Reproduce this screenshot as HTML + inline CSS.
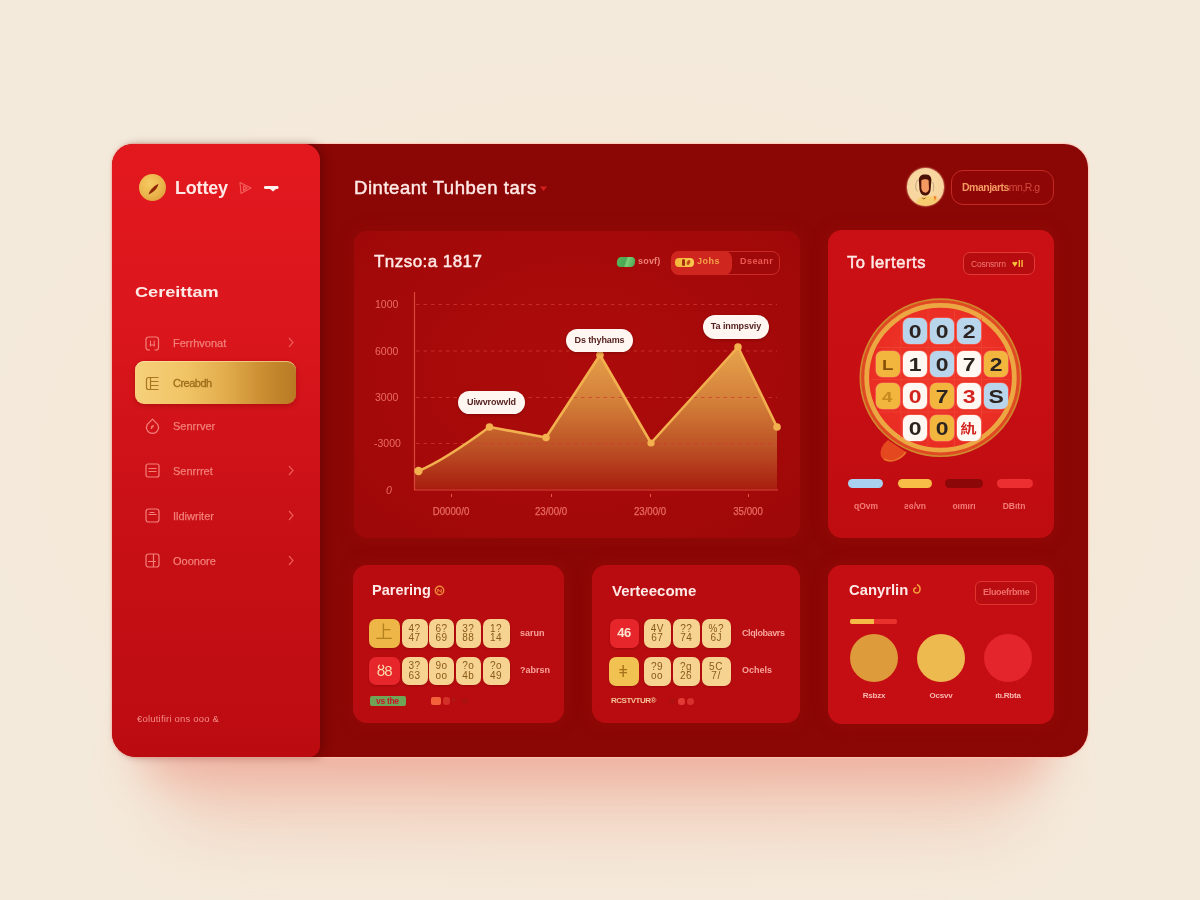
<!DOCTYPE html>
<html lang="en">
<head>
<meta charset="utf-8">
<title>Lottey Dashboard</title>
<style>
*{box-sizing:border-box;margin:0;padding:0}
html,body{width:1200px;height:900px;overflow:hidden}
body{position:relative;background:#f4eadb;font-family:"Liberation Sans",sans-serif;color:#ffe4e0}
.abs{position:absolute}
.bgglow{left:0;top:0;width:1200px;height:900px;background:radial-gradient(ellipse 640px 430px at 600px 470px,#f7e3d3 0%,rgba(244,234,219,0) 100%)}
.shadow{left:138px;top:700px;width:915px;height:80px;border-radius:40px;background:#ec9a88;filter:blur(22px);opacity:.62}
.panel{left:112px;top:144px;width:976px;height:613px;border-radius:21px 24px 27px 24px;background:#8a0705;box-shadow:0 0 1.5px 1px rgba(255,196,180,.95)}
.side{left:112px;top:144px;width:208px;height:613px;border-radius:21px 16px 11px 24px;background:linear-gradient(180deg,#e3181f 0%,#da161c 30%,#c81016 62%,#bb0b11 100%);box-shadow:4px 0 9px rgba(70,0,0,.35)}
.card{border-radius:14px;box-shadow:0 0 18px 2px rgba(176,20,16,.2)}
.t{position:absolute;white-space:nowrap;line-height:1}
.h{font-weight:bold;color:#ffe9e6}
.mi{color:#f37f78;font-size:11px;-webkit-text-stroke:.25px #f37f78}
.ax{font-size:10.5px;color:#ea6c63}
.xl{width:50px;text-align:center;transform:scaleX(.84);font-size:11.500px;-webkit-text-stroke:.25px #ea6c63}
.tip{position:absolute;border-radius:12px;background:#fff6f2;color:#552220;font-size:9px;font-weight:bold;line-height:23px;text-align:center;white-space:nowrap;box-shadow:0 1px 3px rgba(80,0,0,.4);letter-spacing:-.1px}
.tile{position:absolute;width:24px;height:26.400px;border-radius:6.5px;font-weight:bold;font-size:18.5px;line-height:27px;text-align:center;box-shadow:0 0 0 .6px rgba(255,170,150,.55)}
.tile i{display:inline-block;font-style:normal;transform:scaleX(1.24)}
.lg{width:50px;text-align:center;font-size:8.500px;font-weight:bold;color:#f37c77}
.nt{position:absolute;border-radius:7px;font-size:10px;line-height:9.5px;font-weight:normal;display:flex;flex-direction:column;align-items:center;justify-content:center;letter-spacing:.5px;box-shadow:0 1px 2px rgba(110,0,0,.35)}
.nt span{display:block}
.sl{font-size:9px;font-weight:bold;color:#f7a39b}
.cl{width:50px;text-align:center;font-size:8px;letter-spacing:-.2px;color:#f9b8b0;font-weight:bold}
svg{position:absolute;overflow:visible}
</style>
</head>
<body>
<div class="abs bgglow"></div>
<div class="abs" style="left:160px;top:730px;width:870px;height:100px;border-radius:50px;background:#efb09c;filter:blur(36px);opacity:.45"></div>
<div class="abs shadow"></div>
<div class="abs panel"></div>
<div class="abs side"></div>

<!-- SIDEBAR -->
<div id="sidebar">
  <div class="abs" style="left:139px;top:174px;width:27px;height:27px;border-radius:50%;background:radial-gradient(circle at 40% 35%,#f6cc62 0%,#eab24a 55%,#d8912f 100%)"></div>
  <svg style="left:139px;top:174px" width="27" height="27" viewBox="0 0 27 27"><path d="M9.6 20.4 C10.6 16.4 14.8 12 19.4 9.8 C19 14 14.6 18.6 9.6 20.4Z" fill="#8e2606"/></svg>
  <div class="t h" id="logo" style="left:175px;top:179px;font-size:18px;letter-spacing:-.2px">Lottey</div>
  <svg style="left:238px;top:181px" width="15" height="14" viewBox="0 0 15 14" fill="none" stroke="#f4605c" stroke-width="1.1" stroke-linejoin="round"><path d="M2 1.5 L13 7 L3 12.5 Z"/><path d="M5.5 5 L9 7 L5.5 9.5 Z"/></svg>
  <svg style="left:264px;top:185px" width="15" height="8" viewBox="0 0 15 8"><rect x="0" y="1" width="14.5" height="3" rx="1.2" fill="#fff1ee"/><path d="M6 4 h6 l-3 2.6 z" fill="#fff1ee"/></svg>

  <div class="t h" id="sect" style="left:135px;top:284px;font-size:15.500px;font-weight:bold;letter-spacing:0;transform:scaleX(1.17);transform-origin:0 0">Cereittam</div>

  <div class="abs" style="left:135px;top:361px;width:161px;height:43px;border-radius:9px;background:linear-gradient(90deg,#f6d07c 0%,#f1c566 30%,#e3ae4e 55%,#c88a2e 82%,#b87a24 100%);box-shadow:0 2px 5px rgba(120,0,0,.35), inset 0 1px 0 rgba(255,235,170,.6)"></div>

  <!-- menu icons -->
  <svg style="left:145px;top:336px" width="15" height="15" viewBox="0 0 15 15" fill="none" stroke="#f4807a" stroke-width="1.2"><path d="M5 14H3.500a2.500 2.500 0 0 1-2.500-2.500v-8A2.500 2.500 0 0 1 3.500 1h7.500a2.500 2.500 0 0 1 2.500 2.500v8a2.500 2.500 0 0 1-2.500 2.500H9.500"/><path d="M4.500 9h5.500M5.500 4.500v6M9.200 4.500v6" stroke-width="1"/></svg>
  <svg style="left:145px;top:376px" width="15" height="15" viewBox="0 0 15 15" fill="none" stroke="#a9761f" stroke-width="1.2"><path d="M13.5 1.5H3.5a2 2 0 0 0-2 2v8a2 2 0 0 0 2 2h10"/><path d="M5.5 1.5v12M5.5 5.5h8M5.5 9.5h8"/></svg>
  <svg style="left:145px;top:418px" width="15" height="16" viewBox="0 0 15 16" fill="none" stroke="#f4807a" stroke-width="1.2" stroke-linejoin="round"><path d="M7.5 1.2 L12.8 6.6 A6 6 0 1 1 2.2 6.6 Z"/><path d="M6 11 L8.5 7 M6 8.6 L8.6 8.6"/></svg>
  <svg style="left:145px;top:463px" width="15" height="15" viewBox="0 0 15 15" fill="none" stroke="#f4807a" stroke-width="1.2"><rect x="1" y="1" width="13" height="13" rx="2"/><path d="M3.5 5.5h8M3.5 8.5h8"/></svg>
  <svg style="left:145px;top:508px" width="15" height="15" viewBox="0 0 15 15" fill="none" stroke="#f4807a" stroke-width="1.2"><rect x="1" y="1" width="13" height="13" rx="2.5"/><path d="M3.5 6.5h8M4.5 4.5h5"/></svg>
  <svg style="left:145px;top:553px" width="15" height="15" viewBox="0 0 15 15" fill="none" stroke="#f4807a" stroke-width="1.2"><rect x="1" y="1" width="13" height="13" rx="2.5"/><path d="M8.5 1v13M3 8.5h8"/></svg>

  <div class="t mi" style="left:173px;top:338px">Ferrhvonat</div>
  <div class="t mi" style="left:173px;top:378px;color:#9c6c1a;-webkit-text-stroke:.3px #9c6c1a;letter-spacing:-.5px">Creabdh</div>
  <div class="t mi" style="left:173px;top:421px">Senrrver</div>
  <div class="t mi" style="left:173px;top:466px">Senrrret</div>
  <div class="t mi" style="left:173px;top:511px">Ildiwriter</div>
  <div class="t mi" style="left:173px;top:556px">Ooonore</div>

  <svg style="left:287px;top:337px" width="8" height="11" viewBox="0 0 8 11" fill="none" stroke="#ef5a56" stroke-width="1.2"><path d="M2 1l4 4.5L2 10"/></svg>
  <svg style="left:287px;top:465px" width="8" height="11" viewBox="0 0 8 11" fill="none" stroke="#ef5a56" stroke-width="1.2"><path d="M2 1l4 4.5L2 10"/></svg>
  <svg style="left:287px;top:510px" width="8" height="11" viewBox="0 0 8 11" fill="none" stroke="#ef5a56" stroke-width="1.2"><path d="M2 1l4 4.5L2 10"/></svg>
  <svg style="left:287px;top:555px" width="8" height="11" viewBox="0 0 8 11" fill="none" stroke="#ef5a56" stroke-width="1.2"><path d="M2 1l4 4.5L2 10"/></svg>

  <div class="t" style="left:137px;top:714px;font-size:9.5px;color:#f58c86;letter-spacing:.2px">€olutifiri ons ooo &amp;</div>
</div>

<!-- HEADER -->
<div id="header">
  <div class="t h" id="title" style="left:354px;top:179px;font-size:18.5px;font-weight:normal;-webkit-text-stroke:.45px #ffe9e6;letter-spacing:.55px">Dinteant Tuhben tars</div>
  <svg style="left:540px;top:186px" width="8" height="6" viewBox="0 0 8 6"><path d="M0 .5h7L3.5 5z" fill="#d3201f"/></svg>
  <div class="abs" style="left:907.300px;top:168px;width:36.700px;height:37.500px;border-radius:50%;background:radial-gradient(circle at 45% 40%,#f9dca6 0%,#f8d49e 60%,#f7c39a 100%);overflow:hidden;box-shadow:0 0 1.5px .5px rgba(255,190,150,.7)">
    <svg style="left:0;top:0" width="37" height="37.500" viewBox="0 0 37 37.500"><ellipse cx="21" cy="35.500" rx="12" ry="7.500" fill="#f6c750" opacity=".6"/><path d="M26.500 27.500l3.200 1.200-1.800 4.300z" fill="#f0812f"/><path d="M10.800 11.500C8.200 15.500 8 20.500 10.300 23.500M25.800 14C27 17.500 27 21 26 23.500" fill="none" stroke="#b59378" stroke-width=".9" opacity=".8"/><path d="M12 14.500C10.800 8.500 15 6 18.200 6.600C22.200 5.800 25.400 9 24.200 14.500L23.600 22C23.200 26 20 28 17.600 27.500C14.200 27 12.600 24 12.400 20.500Z" fill="#4a1206"/><path d="M14.300 12.600C16 11 20 11 21.600 12.200L22 21C21.600 23.500 19.200 25 17.700 24.600C15.600 24 14.400 22 14.300 20Z" fill="#f59a62"/><path d="M15 29.500l1.500 1.500 2-1" stroke="#8a4a10" stroke-width=".9" fill="none"/></svg>
  </div>
  <div class="abs" style="left:950.5px;top:170px;width:103px;height:35px;border-radius:12px;border:1px solid #c42a24;background:#8e0606"></div>
  <div class="t" id="userbtn" style="left:962px;top:182px;font-size:10.5px;font-weight:bold;color:#f59a62;letter-spacing:-.5px">Dmanjarts<span style="color:#d4483c;font-weight:normal">mn,R.g</span></div>
</div>

<!-- CARDS -->
<div class="abs card" style="left:354px;top:231px;width:446px;height:307px;border-radius:13px;background:radial-gradient(ellipse 330px 230px at 50% 45%,#ad0b0b 0%,#a50909 60%,#9d0808 100%)"></div>
<div class="abs card" style="left:828px;top:230px;width:226px;height:308px;background:linear-gradient(180deg,#cb1015 0%,#c60e13 55%,#be0c11 100%)"></div>
<div class="abs card" style="left:353px;top:565px;width:211px;height:158px;background:#b80c10"></div>
<div class="abs card" style="left:592px;top:565px;width:208px;height:158px;background:#b80c10"></div>
<div class="abs card" style="left:828px;top:565px;width:226px;height:159px;background:#c50e13"></div>

<!--CHART-->
<div id="chart">
  <div class="t h" id="ctitle" style="left:374px;top:253px;font-size:17px;font-weight:normal;-webkit-text-stroke:.45px #ffe9e6;letter-spacing:.45px">Tnzso:a 1817</div>
  <div class="abs" style="left:617px;top:257px;width:18px;height:10px;border-radius:4px;background:linear-gradient(100deg,#58b85c 0%,#4aa653 45%,#7ccf78 55%,#4aa653 100%);transform:skewX(-8deg)"></div>
  <div class="t" style="left:638px;top:257px;font-size:9px;font-weight:bold;color:#ee8178;letter-spacing:.2px">sovf)</div>
  <div class="abs" style="left:671px;top:251px;width:109px;height:24px;border-radius:8px;border:1px solid #c92a26;background:#a00909"></div>
  <div class="abs" style="left:671px;top:251px;width:61px;height:24px;border-radius:8px;background:#cf2620"></div>
  <div class="abs" style="left:675px;top:258px;width:19px;height:9px;border-radius:4px;background:linear-gradient(90deg,#f6b53a,#f7c94e)"></div>
  <div class="abs" style="left:682px;top:259px;width:3px;height:7px;border-radius:2px;background:#a3300f"></div>
  <div class="abs" style="left:687px;top:260px;width:3px;height:5px;border-radius:2px;background:#c34a14;transform:rotate(25deg)"></div>
  <div class="t" style="left:697px;top:257px;font-size:9px;font-weight:bold;color:#f6a24a;letter-spacing:.5px">Johs</div>
  <div class="t" style="left:740px;top:257px;font-size:9px;font-weight:bold;color:#ec5a52;letter-spacing:.45px">Dseanr</div>
  <svg style="left:354px;top:231px" width="446" height="307" viewBox="354 231 446 307">
    <defs>
      <linearGradient id="ag" x1="0" y1="347" x2="0" y2="490" gradientUnits="userSpaceOnUse">
        <stop offset="0" stop-color="#e7a44c"/><stop offset=".4" stop-color="#d27d38"/><stop offset=".75" stop-color="#b94a22"/><stop offset="1" stop-color="#a81c0e"/>
      </linearGradient>
    </defs>
    
    <path d="M418.5 471 C440 462 465 445 489.5 427 L546 437.5 L600 355 L651 443 L738 347 L777 427 L777 489.5 L414.5 489.5 L414.5 473 Z" fill="url(#ag)"/>
    <g stroke="#d23a30" stroke-width="1" stroke-dasharray="3.5 4" opacity=".75">
      <path d="M416 304.5H777M416 351H777M416 397.5H777M416 443.5H777"/>
    </g>
    <path d="M414.5 292V490H778" fill="none" stroke="#d8473a" stroke-width="1.2"/>
    <path d="M418.5 471 C440 462 465 445 489.5 427 L546 437.5 L600 355 L651 443 L738 347 L777 427" fill="none" stroke="#f2b04e" stroke-width="2.6" stroke-linejoin="round" stroke-linecap="round"/>
    <g fill="#f2b04e"><circle cx="418.5" cy="471" r="4.2"/><circle cx="489.5" cy="427" r="3.8"/><circle cx="546" cy="437.5" r="3.8"/><circle cx="600" cy="355" r="3.8"/><circle cx="651" cy="443" r="3.6"/><circle cx="738" cy="347" r="3.8"/><circle cx="777" cy="427" r="3.8"/></g>
    <g stroke="#e4574a" stroke-width="1"><path d="M451.5 494v3M551.5 494v3M650.500 494v3M748.5 494v3"/></g>
  </svg>
  <div class="t ax" style="left:375px;top:299px">1000</div>
  <div class="t ax" style="left:375px;top:346px">6000</div>
  <div class="t ax" style="left:375px;top:392px">3000</div>
  <div class="t ax" style="left:374px;top:438px">-3000</div>
  <div class="t ax" style="left:386px;top:485px;font-style:italic">0</div>
  <div class="t ax xl" style="left:426px;top:506px">D0000/0</div>
  <div class="t ax xl" style="left:526px;top:506px">23/00/0</div>
  <div class="t ax xl" style="left:625px;top:506px">23/00/0</div>
  <div class="t ax xl" style="left:723px;top:506px">35/000</div>
  <div class="tip" style="left:458px;top:391px;width:67px;height:23px">Uiwvrowvld</div>
  <div class="tip" style="left:566px;top:329px;width:67px;height:23px">Ds thyhams</div>
  <div class="tip" style="left:703px;top:315px;width:66px;height:24px">Ta inmpsviy</div>
</div>
<!--BALL-->
<div id="ballcard">
  <div class="t h" id="btitle" style="left:847px;top:254px;font-size:16.500px;font-weight:normal;-webkit-text-stroke:.5px #ffe9e6;letter-spacing:.6px">To lerterts</div>
  <div class="abs" style="left:963px;top:252px;width:72px;height:23px;border-radius:7px;border:1px solid #e03a34;background:#b60c10"></div>
  <div class="t" style="left:971px;top:259px;font-size:8.5px;color:#f27a72;letter-spacing:-.2px">Cosnsnrn <b style="color:#f8c23c;font-size:9.500px;letter-spacing:.3px;margin-left:4px">♥ll</b></div>
  <svg style="left:850px;top:290px" width="185" height="180" viewBox="850 290 185 180">
    <defs><radialGradient id="bg1" cx="50%" cy="45%" r="55%"><stop offset="0" stop-color="#f0382a"/><stop offset="1" stop-color="#e92c23"/></radialGradient></defs>
    <path d="M888 440 C880 446 878 456 884 460 C892 464 902 458 906 452 Z" fill="#e4481f"/>
    <path d="M884 459 C892 464 902 458 906 452" fill="none" stroke="#e8742a" stroke-width="1.5"/>
    <ellipse cx="940.5" cy="377.700" rx="80.200" ry="78.600" fill="#e04a22" stroke="#d08a2e" stroke-width="1.600"/>
    <ellipse cx="940.5" cy="377.700" rx="73.800" ry="72.400" fill="url(#bg1)" stroke="#eca743" stroke-width="4.800"/>
    <g stroke="#f04a3c" stroke-width=".8" opacity=".7"><path d="M877 347.500H1004M871 379.500H1010M878 412H1003M901 318V438M928 310V446M954.500 310V446M981.500 318V438"/></g>
  </svg>
  <div class="tile" style="left:902.7px;top:318px;background:#b9d5ec;color:#2b2320"><i>0</i></div>
  <div class="tile" style="left:929.7px;top:318px;background:#b9d5ec;color:#2b2320"><i>0</i></div>
  <div class="tile" style="left:956.7px;top:318px;background:#b9d5ec;color:#2b2320"><i>2</i></div>
  <div class="tile" style="left:875.5px;top:350.5px;background:#f2b63e;color:#8a5208;font-size:15px"><i>L</i></div>
  <div class="tile" style="left:902.7px;top:350.5px;background:#fff7f2;color:#2b2320"><i>1</i></div>
  <div class="tile" style="left:929.7px;top:350.5px;background:#b9d5ec;color:#2b2320"><i>0</i></div>
  <div class="tile" style="left:956.7px;top:350.5px;background:#fff7f2;color:#2b2320"><i>7</i></div>
  <div class="tile" style="left:983.7px;top:350.5px;background:#f2b63e;color:#2b2320"><i>2</i></div>
  <div class="tile" style="left:875.5px;top:383px;background:#f2b63e;color:#c68a1e;font-size:15px"><i>4</i></div>
  <div class="tile" style="left:902.7px;top:383px;background:#fff7f2;color:#d3231f"><i>0</i></div>
  <div class="tile" style="left:929.7px;top:383px;background:#f2b63e;color:#2b2320"><i>7</i></div>
  <div class="tile" style="left:956.7px;top:383px;background:#fff7f2;color:#d3231f"><i>3</i></div>
  <div class="tile" style="left:983.7px;top:383px;background:#b9d5ec;color:#2b2320"><i>S</i></div>
  <div class="tile" style="left:902.7px;top:415px;background:#fff7f2;color:#2b2320"><i>0</i></div>
  <div class="tile" style="left:929.7px;top:415px;background:#f2b63e;color:#2b2320"><i>0</i></div>
  <div class="tile" style="left:956.7px;top:415px;background:#fff7f2;color:#d3231f;font-size:13px;font-family:'Liberation Sans','Noto Sans CJK SC',sans-serif"><i>䊵</i></div>

  <div class="abs" style="left:848px;top:479px;width:35px;height:9px;border-radius:5px;background:#a9d0ee"></div>
  <div class="abs" style="left:898px;top:479px;width:34px;height:9px;border-radius:5px;background:#f7bd47"></div>
  <div class="abs" style="left:945px;top:479px;width:38px;height:9px;border-radius:5px;background:#8c0707"></div>
  <div class="abs" style="left:997px;top:479px;width:36px;height:9px;border-radius:5px;background:#ee2f31"></div>
  <div class="t lg" style="left:841px;top:502px">ɋOvm</div>
  <div class="t lg" style="left:890px;top:502px">ƨɞ/vn</div>
  <div class="t lg" style="left:939px;top:502px">oımırı</div>
  <div class="t lg" style="left:989px;top:502px">DBıtn</div>
</div>
<!--BOTTOM-->
<div id="bottom">
  <div class="t h" id="p1t" style="left:372px;top:583px;font-size:14.500px">Parering</div>
  <svg style="left:434px;top:585px" width="11" height="11" viewBox="0 0 11 11" fill="none" stroke="#f08a3a" stroke-width="1.4"><circle cx="5.5" cy="5.500" r="4.200"/><path d="M3.800 7.500V4l3.400 3.500V4" stroke-width="1"/></svg>
  <div class="nt" style="left:369px;top:618.5px;width:30.5px;height:29px;background:#edb646;color:#b5801e;font-size:17px;line-height:18px;font-family:'Liberation Sans','Noto Sans CJK SC',sans-serif"><span>上</span><span></span></div>
  <div class="nt" style="left:401.5px;top:618.5px;width:26px;height:29px;background:#f6d391;color:#8a5a1a"><span>4?</span><span>47</span></div>
  <div class="nt" style="left:429px;top:618.5px;width:25px;height:29px;background:#f6d391;color:#8a5a1a"><span>6?</span><span>69</span></div>
  <div class="nt" style="left:455.5px;top:618.5px;width:25.5px;height:29px;background:#f6d391;color:#8a5a1a"><span>3?</span><span>88</span></div>
  <div class="nt" style="left:482.5px;top:618.5px;width:27px;height:29px;background:#f6d391;color:#8a5a1a"><span>1?</span><span>14</span></div>
  <div class="nt" style="left:369px;top:656.5px;width:30.5px;height:28.5px;background:#e6262a;color:#fbd9a8;font-size:15px;line-height:16px;letter-spacing:-1px"><span>ȣ8</span><span></span></div>
  <div class="nt" style="left:401.5px;top:656.5px;width:26px;height:28.5px;background:#f6d391;color:#8a5a1a"><span>3?</span><span>63</span></div>
  <div class="nt" style="left:429px;top:656.5px;width:25px;height:28.5px;background:#f6d391;color:#8a5a1a"><span>9o</span><span>oo</span></div>
  <div class="nt" style="left:455.5px;top:656.5px;width:25.5px;height:28.5px;background:#f6d391;color:#8a5a1a"><span>?o</span><span>4b</span></div>
  <div class="nt" style="left:482.5px;top:656.5px;width:27px;height:28.5px;background:#f6d391;color:#8a5a1a"><span>?o</span><span>49</span></div>

  <div class="t sl" style="left:520px;top:629px">sarun</div>
  <div class="t sl" style="left:520px;top:666px">?abrsn</div>
  <div class="abs" style="left:370px;top:696px;width:36px;height:10px;border-radius:2px;background:#6fa356"></div>
  <div class="t" style="left:376px;top:697px;font-size:8.5px;color:#c7182a;letter-spacing:-.3px;font-weight:bold">vs the</div>
  <div class="abs" style="left:431px;top:697px;width:10px;height:8px;border-radius:2px;background:#f4603a"></div>
  <div class="abs" style="left:443px;top:697px;width:7px;height:8px;border-radius:3px;background:#d4302a"></div>
  <div class="abs" style="left:452px;top:698px;width:3px;height:3px;border-radius:2px;background:#a52018"></div>
  <div class="abs" style="left:462px;top:698px;width:6px;height:6px;border-radius:3px;background:#aa1210"></div>

  <div class="t h" id="p2t" style="left:612px;top:583px;font-size:15px">Verteecome</div>
  <div class="nt" style="left:609.5px;top:618.5px;width:29px;height:29px;background:#e6262a;color:#fbe3d0;font-size:13px;line-height:14px;font-weight:bold;letter-spacing:-.5px"><span>46</span><span></span></div>
  <div class="nt" style="left:643.5px;top:618.5px;width:27.5px;height:29px;background:#f6d391;color:#8a5a1a"><span>4V</span><span>67</span></div>
  <div class="nt" style="left:672.5px;top:618.5px;width:27.5px;height:29px;background:#f6d391;color:#8a5a1a"><span>??</span><span>74</span></div>
  <div class="nt" style="left:701.5px;top:618.5px;width:29.5px;height:29px;background:#f6d391;color:#8a5a1a"><span>%?</span><span>6J</span></div>
  <div class="nt" style="left:608.5px;top:656.5px;width:30px;height:29px;background:#f1c251;color:#a8701a;font-size:16px;line-height:17px"><span>ǂ</span><span></span></div>
  <div class="nt" style="left:643.5px;top:656.5px;width:27px;height:29px;background:#f6d391;color:#8a5a1a"><span>?9</span><span>oo</span></div>
  <div class="nt" style="left:672.5px;top:656.5px;width:27px;height:29px;background:#f6d391;color:#8a5a1a"><span>?g</span><span>26</span></div>
  <div class="nt" style="left:701.5px;top:656.5px;width:29px;height:29px;background:#f6d391;color:#8a5a1a"><span>5C</span><span>7/</span></div>

  <div class="t sl" style="left:742px;top:629px;letter-spacing:-.4px">Clqlobavrs</div>
  <div class="t sl" style="left:742px;top:666px">Ochels</div>
  <div class="t" style="left:611px;top:697px;font-size:8px;color:#f3c49a;letter-spacing:-.5px;font-weight:bold">RCSTVTUR®</div>
  <div class="abs" style="left:678px;top:698px;width:7px;height:7px;border-radius:3px;background:#e23a34"></div>
  <div class="abs" style="left:687px;top:698px;width:7px;height:7px;border-radius:3.5px;background:#d8302c"></div>
  <div class="abs" style="left:670px;top:698px;width:5px;height:6px;border-radius:3px;background:#ad1010"></div>

  <div class="t h" id="p3t" style="left:849px;top:583px;font-size:14.800px">Canyrlin</div>
  <svg style="left:912px;top:583px" width="10" height="12" viewBox="0 0 10 12" fill="none" stroke="#f4a23c" stroke-width="1.5"><path d="M5 1.500C8 3 8.500 6 7.500 8.500C6.500 10.500 3 10.500 2 8.500C1 6.500 2.500 4.500 4.500 5"/></svg>
  <div class="abs" style="left:975px;top:581px;width:62px;height:24px;border-radius:6px;border:1px solid #e0342e;background:#b90d11"></div>
  <div class="t" style="left:983px;top:588px;font-size:9px;font-weight:bold;color:#f0706a;letter-spacing:-.3px">Eluoefrbme</div>
  <div class="abs" style="left:850px;top:618.5px;width:47px;height:5.500px;border-radius:2px;background:#ea322d"></div>
  <div class="abs" style="left:850px;top:618.5px;width:24px;height:5.500px;border-radius:2px 0 0 2px;background:#f5b945"></div>
  <div class="abs" style="left:850px;top:634px;width:48px;height:48px;border-radius:50%;background:#dd9b3b"></div>
  <div class="abs" style="left:917px;top:634px;width:48px;height:48px;border-radius:50%;background:#edba50"></div>
  <div class="abs" style="left:984px;top:634px;width:48px;height:48px;border-radius:50%;background:#e4252b"></div>
  <div class="t cl" style="left:849px;top:692px">Rsbzx</div>
  <div class="t cl" style="left:916px;top:692px">Ocsvv</div>
  <div class="t cl" style="left:983px;top:692px">ıtı.Rbta</div>
</div>
</body>
</html>
